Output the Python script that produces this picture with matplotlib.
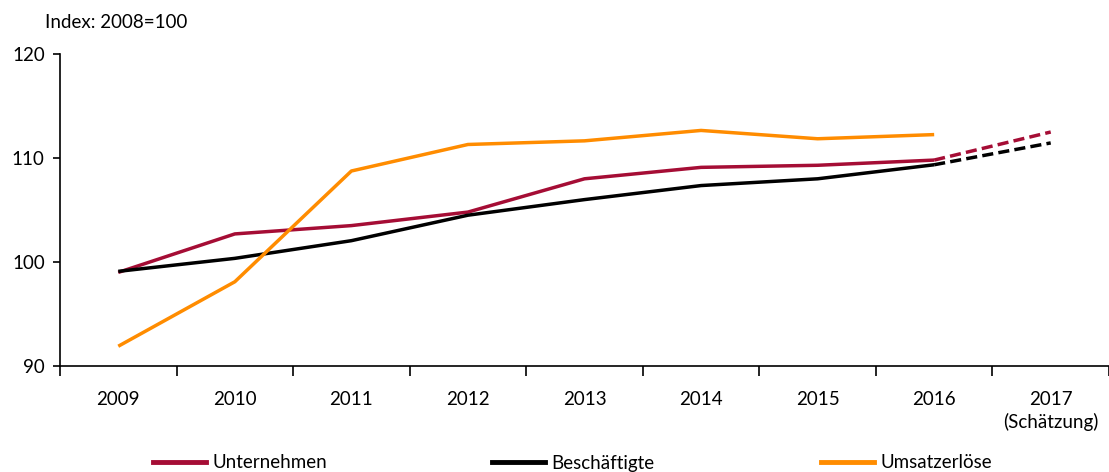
import matplotlib
matplotlib.use("Agg")
import numpy as np
import matplotlib.pyplot as plt
from matplotlib.lines import Line2D

# - data (Index: 2008=100)
years = ["2009", "2010", "2011", "2012", "2013", "2014", "2015", "2016", "2017\n(Schätzung)"]
unternehmen = [99.0, 102.7, 103.5, 104.8, 108.0, 109.1, 109.3, 109.8, 112.5]
beschaeftigte = [99.1, 100.35, 102.05, 104.5, 106.0, 107.35, 108.0, 109.35, 111.45]
umsatzerloese = [91.9, 98.1, 108.75, 111.3, 111.65, 112.65, 111.85, 112.25]
series_names = ["Unternehmen", "Beschäftigte", "Umsatzerlöse"]

red = "#A50D35"
orange = "#FF8C00"
black = "#000000"

plt.rcParams['font.family'] = ['Lato', 'DejaVu Sans']
fs = 13.5

W, H = 1109, 472
fig = plt.figure(figsize=(W / 100, H / 100), dpi=100)
ax = fig.add_axes([60 / W, (H - 366) / H, (W - 60) / W, 312 / H])

x = np.arange(len(years))
lw = 2.5
dash = (0, (3.2, 1.5))
# solid parts up to 2016, dashed estimate 2016 -> 2017
ax.plot(x[:8], unternehmen[:8], color=red, lw=lw, solid_capstyle="butt")
ax.plot(x[7:], unternehmen[7:], color=red, lw=lw, ls=dash)
ax.plot(x[:8], beschaeftigte[:8], color=black, lw=lw, solid_capstyle="butt")
ax.plot(x[7:], beschaeftigte[7:], color=black, lw=lw, ls=dash)
ax.plot(x[:len(umsatzerloese)], umsatzerloese, color=orange, lw=lw, solid_capstyle="butt")

ax.set_ylim(90, 120)
ax.set_yticks([90, 100, 110, 120])
ax.set_xlim(-0.5, -0.5 + (W - 60) / 117.5)
ax.set_xticks(x)
ax.set_xticklabels(years, linespacing=1.3)
ax.set_xticks(np.arange(-0.5, len(years), 1.0), minor=True)
ax.tick_params(axis="x", which="major", length=0, pad=18, labelsize=fs)
ax.tick_params(axis="x", which="minor", length=7, width=1.2, direction="out")
ax.tick_params(axis="y", length=5, width=1.2, direction="out", pad=6, labelsize=fs)

for s in ["top", "right"]:
    ax.spines[s].set_visible(False)
for s in ["left", "bottom"]:
    ax.spines[s].set_linewidth(1.2)

fig.text(45 / W, 1 - 22 / H, "Index: 2008=100", fontsize=fs, va="center", ha="left")

# - legend: three separate entries at the reference positions
leg_x = [153, 492, 821]
for name, col, lx in zip(series_names, [red, black, orange], leg_x):
    fig.legend([Line2D([], [], color=col, lw=3.5)], [name],
               loc="center left", bbox_to_anchor=(lx / W, 1 - 463 / H),
               frameon=False, fontsize=fs, handlelength=2.85, handletextpad=0.3,
               borderaxespad=0, borderpad=0)

plt.savefig("out.png", dpi=100)
